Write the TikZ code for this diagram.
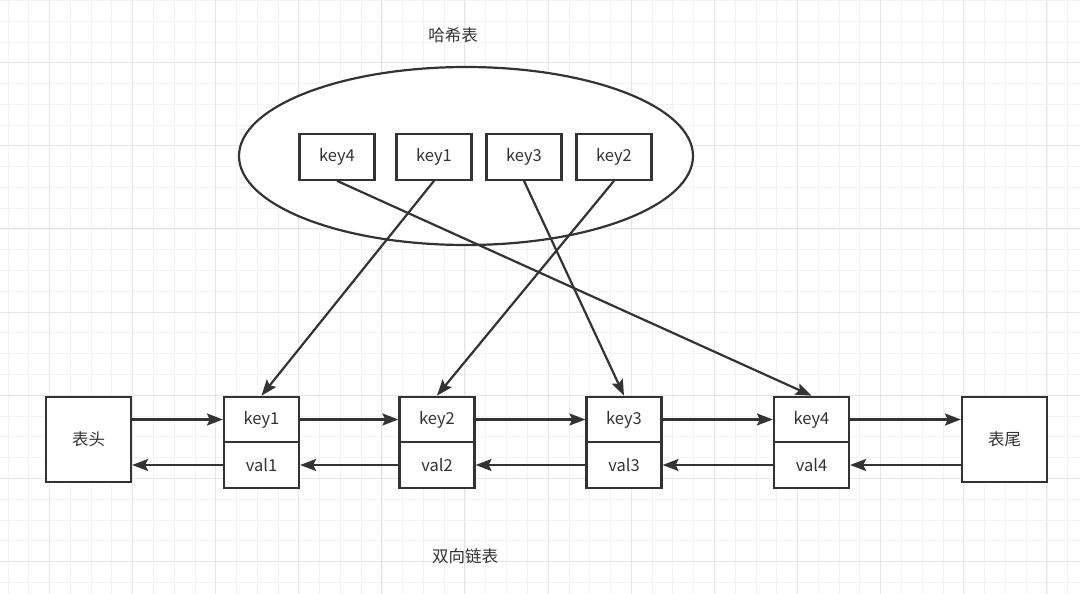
\documentclass[tikz,border=0pt]{standalone}
\usepackage{fontspec}
\setmainfont{Noto Sans CJK SC}
\usepackage{tikz}
\usetikzlibrary{arrows.meta,positioning}
\definecolor{ink}{HTML}{333333}
\definecolor{gminor}{HTML}{F3F3F3}
\definecolor{gmajor}{HTML}{E6E6E6}
\begin{document}
\begin{tikzpicture}
[x=1pt,y=-1pt,
 >={Stealth[length=16pt,width=12pt,inset=3pt]},
 cell/.style={draw=ink,line width=2.2pt,fill=white,minimum width=75pt,minimum height=45.5pt,inner sep=0pt,text=ink,font=\fontsize{16.5}{19}\selectfont},
 endbox/.style={cell,minimum width=85pt,minimum height=85pt},
 lbl/.style={text=ink,font=\fontsize{16.5}{19}\selectfont},
 link/.style={draw=ink,line width=2.2pt,->}]
\useasboundingbox (0,0) rectangle (1080,594);
\fill[white] (0,0) rectangle (1080,594);
% grid
\foreach \i in {0,...,51} \draw[gminor,line width=1pt] ({8+20.78*\i},0) -- ({8+20.78*\i},594);
\foreach \i in {0,...,28} \draw[gminor,line width=1pt] (0,{0.5+20.78*\i}) -- (1080,{0.5+20.78*\i});
\foreach \i in {0,...,12} \draw[gmajor,line width=1pt] ({49.3+83.12*\i},0) -- ({49.3+83.12*\i},594);
\foreach \i in {0,...,6} \draw[gmajor,line width=1pt] (0,{62.7+83.12*\i}) -- (1080,{62.7+83.12*\i});
% hash table
\node[lbl] (title) at (453,35) {哈希表};
\draw[ink,line width=2.2pt,fill=white] (466,156) ellipse [x radius=227pt,y radius=89pt];
\node[cell] (hk4) at (337,157) {key4};
\node[cell] (hk1) at (434,157) {key1};
\node[cell] (hk3) at (524,157) {key3};
\node[cell] (hk2) at (614,157) {key2};
% list
\node[endbox] (head) at (88.5,439.5) {表头};
\node[cell] (k1) at (261.5,419.5) {key1};
\node[cell,below=-2.2pt of k1] (v1) {val1};
\node[cell] (k2) at (437,419.5) {key2};
\node[cell,below=-2.2pt of k2] (v2) {val2};
\node[cell] (k3) at (624,419.5) {key3};
\node[cell,below=-2.2pt of k3] (v3) {val3};
\node[cell] (k4) at (811.5,419.5) {key4};
\node[cell,below=-2.2pt of k4] (v4) {val4};
\node[endbox] (tail) at (1004.5,439.5) {表尾};
\node[lbl] (cap) at (465,556) {双向链表};
% next
\draw[link] (head.east |- k1) -- (k1.west);
\draw[link] (k1) -- (k2);
\draw[link] (k2) -- (k3);
\draw[link] (k3) -- (k4);
\draw[link] (k4.east) -- (tail.west |- k4);
% prev
\draw[link] (v1.west) -- (head.east |- v1);
\draw[link] (v2) -- (v1);
\draw[link] (v3) -- (v2);
\draw[link] (v4) -- (v3);
\draw[link] (tail.west |- v4) -- (v4.east);
% hash -> node
\draw[link] (hk4.south) -- (k4.north);
\draw[link] (hk1.south) -- (k1.north);
\draw[link] (hk3.south) -- (k3.north);
\draw[link] (hk2.south) -- (k2.north);
\end{tikzpicture}
\end{document}
